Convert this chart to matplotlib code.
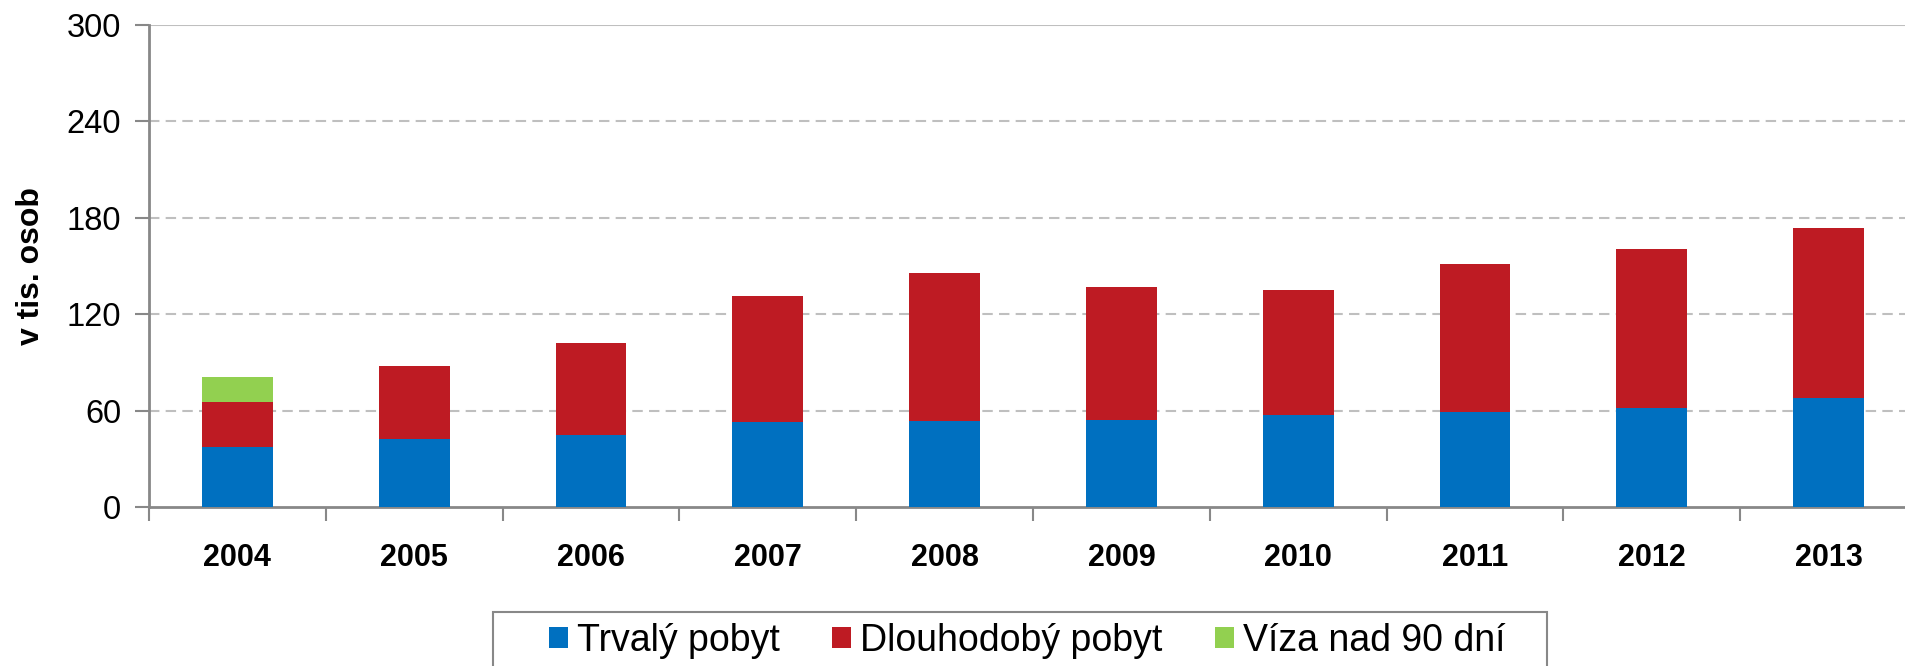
import matplotlib
matplotlib.use("Agg")
import matplotlib.pyplot as plt
import numpy as np
from matplotlib.patches import Patch, Rectangle

years = ["2004", "2005", "2006", "2007", "2008", "2009", "2010", "2011", "2012", "2013"]
trvaly = [37.5, 42.1, 44.8, 52.8, 53.4, 54.3, 57.0, 59.3, 61.8, 67.6]
dlouhodoby = [28.0, 45.5, 57.5, 78.3, 92.2, 82.6, 78.3, 92.0, 98.7, 106.2]
viza = [15.3, 0, 0, 0, 0, 0, 0, 0, 0, 0]
series_names = ["Trvalý pobyt", "Dlouhodobý pobyt", "Víza nad 90 dní"]
colors = ["#0070C0", "#BE1B23", "#92D050"]
yticks = [0, 60, 120, 180, 240, 300]

plt.rcParams['font.family'] = ['Liberation Sans', 'DejaVu Sans']

W, H = 1906, 666
fig = plt.figure(figsize=(W / 100, H / 100), dpi=100)
ax = fig.add_axes([149/W, 1-507/H, (1917-149)/W, (507-25)/H])

x = np.arange(len(years))
w = 0.4
b1 = np.array(trvaly)
b2 = b1 + np.array(dlouhodoby)
ax.bar(x, trvaly, w, color=colors[0], zorder=3)
ax.bar(x, dlouhodoby, w, bottom=b1, color=colors[1], zorder=3)
ax.bar(x, viza, w, bottom=b2, color=colors[2], zorder=3)

ax.set_xlim(-0.5, len(years) - 0.5)
ax.set_ylim(0, 300)
ax.set_yticks(yticks)
ax.set_yticklabels([str(t) for t in yticks], fontsize=23.5)
for t in yticks[1:-1]:
    ax.axhline(t, color="#BFBFBF", linestyle=(0, (5, 3)), linewidth=1.5, zorder=1)
ax.axhline(300, color="#BFBFBF", linewidth=1.5, zorder=1)

ax.set_xticks(x)
ax.set_xticklabels(years, fontsize=22, fontweight="bold")
ax.tick_params(axis="x", which="major", length=0, pad=26)
ax.set_xticks(np.arange(-0.5, len(years), 1.0), minor=True)
ax.tick_params(axis="x", which="minor", length=10, width=1.5, color="#888888", direction="out")
ax.tick_params(axis="y", length=10, width=1.5, color="#888888", pad=10)

for s in ["top", "right"]:
    ax.spines[s].set_visible(False)
for s in ["left", "bottom"]:
    ax.spines[s].set_color("#888888")
    ax.spines[s].set_linewidth(2)

ax.set_ylabel("v tis. osob", fontsize=23, fontweight="bold")
ax.yaxis.set_label_coords(-0.058, 0.5)

# legend frame (box runs off the bottom of the figure)
frame = Rectangle((493/W, -0.2), (1547-493)/W, 0.2 + (1-612/H), transform=fig.transFigure,
                  facecolor="white", edgecolor="#888888", linewidth=1.5, clip_on=False, zorder=0)
fig.patches.append(frame)

handles = [Patch(facecolor=c, edgecolor="none") for c in colors]
leg = fig.legend(handles, series_names, loc="center left", bbox_to_anchor=(549/W, 1-641/H),
                 ncol=3, fontsize=27, frameon=False,
                 handlelength=0.5, handleheight=0.5, handletextpad=0.25, columnspacing=1.39,
                 borderpad=0, borderaxespad=0)

fig.savefig("out.png", dpi=100)
